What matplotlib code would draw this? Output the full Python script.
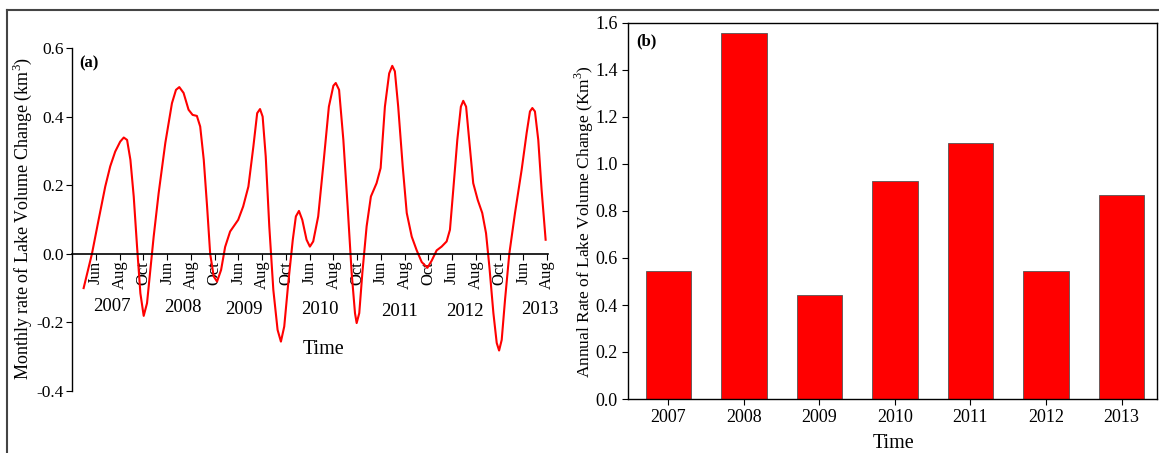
import numpy as np
import matplotlib
matplotlib.use("Agg")
import matplotlib.pyplot as plt
from matplotlib.lines import Line2D

plt.rcParams['font.family'] = ['Liberation Serif', 'DejaVu Serif']
plt.rcParams['mathtext.fontset'] = 'custom'
plt.rcParams['mathtext.rm'] = 'Liberation Serif'

# (a) monthly rate, x = position along the month axis (0 = first Jun tick)
month_x = [-0.52, -0.17, 0.11, 0.39, 0.60, 0.81, 1.02, 1.17, 1.31, 1.45, 1.59, 1.73,
           1.87, 2.01, 2.15, 2.29, 2.43, 2.64, 2.92, 3.20, 3.37, 3.51, 3.69, 3.90,
           4.07, 4.25, 4.39, 4.54, 4.68, 4.81, 4.96, 5.10, 5.27, 5.44, 5.65, 5.99,
           6.20, 6.42, 6.63, 6.79, 6.91, 7.02, 7.15, 7.30, 7.47, 7.65, 7.79, 7.93,
           8.10, 8.29, 8.42, 8.55, 8.69, 8.87, 9.01, 9.15, 9.36, 9.57, 9.81, 10.00,
           10.10, 10.24, 10.42, 10.60, 10.77, 10.91, 10.98, 11.09, 11.22, 11.40,
           11.58, 11.82, 11.99, 12.17, 12.35, 12.48, 12.59, 12.73, 12.92, 13.09,
           13.30, 13.51, 13.72, 13.96, 14.14, 14.35, 14.56, 14.77, 14.91, 15.05,
           15.22, 15.37, 15.47, 15.59, 15.72, 15.89, 16.08, 16.27, 16.43, 16.57,
           16.74, 16.88, 16.98, 17.09, 17.23, 17.41, 17.65, 17.93, 18.14, 18.28,
           18.38, 18.49, 18.63, 18.77, 18.94]
monthly_rate = [-0.100, 0.000, 0.099, 0.196, 0.255, 0.298, 0.327, 0.339, 0.332, 0.274,
                0.167, 0.021, -0.115, -0.181, -0.144, -0.047, 0.050, 0.177, 0.323,
                0.439, 0.478, 0.486, 0.469, 0.420, 0.405, 0.402, 0.371, 0.274, 0.138,
                0.000, -0.066, -0.081, -0.047, 0.020, 0.065, 0.099, 0.138, 0.196,
                0.313, 0.410, 0.422, 0.400, 0.284, 0.080, -0.105, -0.222, -0.256,
                -0.212, -0.085, 0.041, 0.109, 0.125, 0.099, 0.041, 0.021, 0.036,
                0.109, 0.255, 0.429, 0.490, 0.498, 0.478, 0.332, 0.138, -0.056,
                -0.173, -0.202, -0.173, -0.056, 0.080, 0.167, 0.206, 0.250, 0.429,
                0.526, 0.548, 0.532, 0.429, 0.255, 0.119, 0.050, 0.010, -0.024,
                -0.041, -0.020, 0.010, 0.021, 0.036, 0.070, 0.187, 0.332, 0.429,
                0.446, 0.429, 0.332, 0.206, 0.157, 0.119, 0.060, -0.037, -0.173,
                -0.260, -0.282, -0.251, -0.134, 0.000, 0.119, 0.245, 0.352, 0.415,
                0.425, 0.415, 0.332, 0.187, 0.041]
month_labels = ['Jun', 'Aug', 'Oct'] * 6 + ['Jun', 'Aug']
year_labels = ['2007', '2008', '2009', '2010', '2011', '2012', '2013']

# (b) annual rate
years = [2007, 2008, 2009, 2010, 2011, 2012, 2013]
annual_rate = [0.545, 1.556, 0.443, 0.929, 1.091, 0.545, 0.868]

W, H = 1159, 453
fig = plt.figure(figsize=(W / 100, H / 100), dpi=100)

# ---------------- panel (a)
ax1 = fig.add_axes([72 / W, 1 - 391 / H, 476 / W, 343 / H])
ax1.plot(month_x, monthly_rate, color='#ff0000', lw=1.5)
ax1.set_xlim(-1.01, 19.04)
ax1.set_ylim(-0.4, 0.6)
for s in ['top', 'right']:
    ax1.spines[s].set_visible(False)
ax1.spines['bottom'].set_position(('data', 0))
ax1.spines['bottom'].set_linewidth(1.2)
ax1.spines['left'].set_linewidth(1.0)
ax1.set_yticks([-0.4, -0.2, 0.0, 0.2, 0.4, 0.6])
ax1.set_yticklabels(['-0.4', '-0.2', '0.0', '0.2', '0.4', '0.6'])
ax1.set_xticks(range(len(month_labels)))
ax1.set_xticklabels(month_labels, rotation=90, fontsize=12)
ax1.tick_params(axis='x', direction='out', length=4, pad=1)
ax1.tick_params(axis='y', direction='out', length=4, pad=2, labelsize=12.5)

year_x = [0.68, 3.68, 6.25, 9.44, 12.79, 15.55, 18.68]
year_y = [-0.154, -0.157, -0.163, -0.163, -0.169, -0.169, -0.163]
for lbl, xx, yy in zip(year_labels, year_x, year_y):
    ax1.text(xx, yy, lbl, ha='center', va='center', fontsize=13.5)
ax1.text(9.59, -0.28, 'Time', ha='center', va='center', fontsize=14.5)
ax1.text(-0.3, 0.555, '(a)', ha='center', va='center', fontsize=12, fontweight='bold')
fig.text(22 / W, 1 - 218 / H, 'Monthly rate of Lake Volume Change (km$^{3}$)',
         rotation=90, ha='center', va='center', fontsize=13)

# ---------------- panel (b)
ax2 = fig.add_axes([628 / W, 1 - 399 / H, 529 / W, 376 / H])
ax2.bar(years, annual_rate, width=0.6, color='#ff0000', edgecolor='#555555', lw=0.6)
ax2.set_xlim(2006.464, 2013.47)
ax2.set_ylim(0, 1.6)
ax2.set_xticks(years)
ax2.set_xticklabels(year_labels)
ax2.set_yticks(np.arange(0, 1.61, 0.2))
ax2.set_yticklabels(['%.1f' % v for v in np.arange(0, 1.61, 0.2)])
ax2.tick_params(direction='out', length=4, labelsize=13)
for s in ax2.spines.values():
    s.set_linewidth(1.0)
ax2.text(0.016, 0.95, '(b)', transform=ax2.transAxes, ha='left', va='center',
         fontsize=12, fontweight='bold')
fig.text(584 / W, 1 - 222 / H, 'Annual Rate of Lake Volume Change (Km$^{3}$)',
         rotation=90, ha='center', va='center', fontsize=12.5)
fig.text(894 / W, 1 - 443 / H, 'Time', ha='center', va='center', fontsize=14.5)

# outer frame (left and top edges)
fig.add_artist(Line2D([7 / W, 7 / W], [0, 1 - 10 / H], color='#444444', lw=1.5))
fig.add_artist(Line2D([7 / W, 1], [1 - 10 / H, 1 - 10 / H], color='#444444', lw=1.5))

fig.savefig('out.png', dpi=100)
